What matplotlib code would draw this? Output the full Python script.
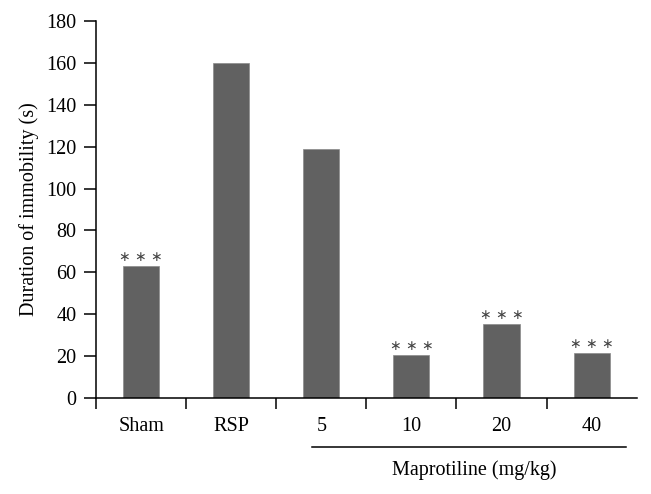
import matplotlib
matplotlib.use("Agg")
import matplotlib.pyplot as plt
import matplotlib.transforms as mtransforms

categories = ["Sham", "RSP", "5", "10", "20", "40"]
values = [63, 160, 119, 20.5, 35.5, 21.5]
significance = ["***", "", "", "***", "***", "***"]
yticks = [0, 20, 40, 60, 80, 100, 120, 140, 160, 180]

plt.rcParams['font.family'] = ['Liberation Serif', 'DejaVu Serif']
FS = 14.5

fig = plt.figure(figsize=(6.51, 4.94), dpi=100)
ax = fig.add_axes([0.1475, 0.1943, 0.978 - 0.1475, 0.9575 - 0.1943])

x = list(range(len(categories)))
ax.bar(x, values, width=0.4, color="#616161", edgecolor="#8a8a8a", linewidth=0.5, zorder=2)

for xi, v, s in zip(x, values, significance):
    if s:
        ax.annotate("∗ ∗ ∗", (xi, v), xytext=(0, 1.5), textcoords="offset points",
                    ha="center", va="bottom", fontsize=10, color="#444444",
                    family=['DejaVu Sans'])

ax.set_xlim(-0.5, len(categories) - 0.5)
ax.set_ylim(0, 180)
ax.set_yticks(yticks)
ax.set_yticklabels([str(t) for t in yticks], fontsize=FS)

ax.set_xticks([i - 0.5 for i in range(len(categories))])
ax.set_xticklabels([])
ax.set_xticks(x, minor=True)
ax.set_xticklabels(categories, minor=True, fontsize=FS)
ax.tick_params(axis='x', which='minor', length=0, pad=14)
ax.tick_params(axis='x', which='major', length=8, width=1.1, direction='out')
ax.tick_params(axis='y', which='major', length=9, width=1.1, direction='out', pad=5)

for side in ['top', 'right']:
    ax.spines[side].set_visible(False)
for side in ['left', 'bottom']:
    ax.spines[side].set_linewidth(1.1)

ax.set_ylabel("Duration of immobility (s)", fontsize=FS, labelpad=5)

trans = mtransforms.blended_transform_factory(ax.transData, ax.transAxes)
ax.plot([1.897, 5.378], [-0.129, -0.129], color="black", linewidth=1.1,
        transform=trans, clip_on=False)
ax.text(3.7, -0.19, "Maprotiline (mg/kg)", transform=trans, ha="center", va="center", fontsize=FS)

fig.savefig("out.png", dpi=100)
